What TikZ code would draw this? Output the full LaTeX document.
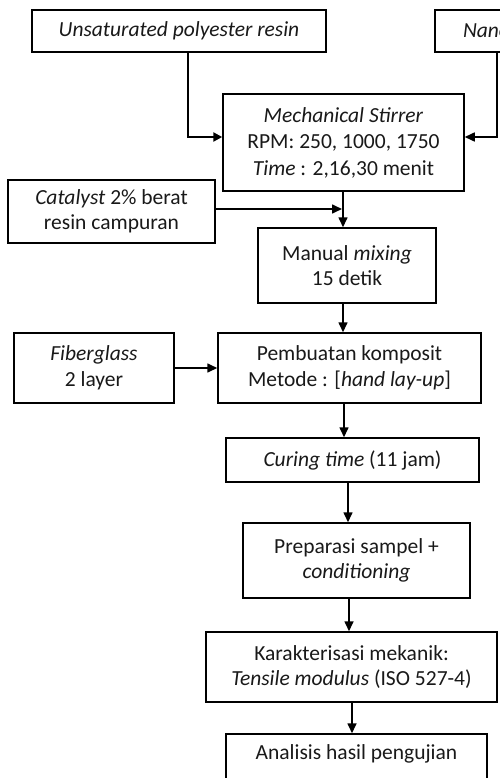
\documentclass[tikz,border=0pt]{standalone}
\usepackage{fontspec}
\setmainfont{Carlito}
\usetikzlibrary{arrows.meta}
\tikzset{
  box/.style={draw=black, line width=1.5pt, align=center, inner sep=0pt,
    text=black!90, font=\fontsize{21.5}{25.5}\selectfont},
  conn/.style={draw=black, line width=1.6pt, -{Triangle[length=10pt,width=9pt]}},
  thickconn/.style={conn, line width=2.8pt, -{Triangle[length=9pt,width=9pt]}},
}
\begin{document}
\begin{tikzpicture}[x=1pt,y=-1pt]
\useasboundingbox[fill=white] (0,0) rectangle (499,778);

\node[box, minimum width=294pt, minimum height=42pt] (unsat) at (179,31) {\textit{Unsaturated polyester resin}};
\node[box, minimum width=300pt, minimum height=42pt, text width=278pt, align=left, inner xsep=0pt] (nano) at (585,31) {\hspace*{17pt}\textit{Nano}};
\node[box, minimum width=241pt, minimum height=97pt, font=\fontsize{21.5}{26.5}\selectfont] (mech) at (343.5,142.5) {\textit{Mechanical Stirrer}\\ RPM: 250, 1000, 1750\\ \textit{Time} : 2,16,30 menit};
\node[box, minimum width=207pt, minimum height=63pt] (cat) at (111.5,211.5) {\textit{Catalyst} 2\% berat\\ resin campuran};
\node[box, minimum width=178pt, minimum height=75pt] (mix) at (347,265.5) {Manual \textit{mixing}\\ 15 detik};
\node[box, minimum width=263pt, minimum height=70pt] (pemb) at (349.5,368) {Pembuatan komposit\\ Metode : [\textit{hand lay-up}]};
\node[box, minimum width=160pt, minimum height=70pt] (fiber) at (94,368) {\textit{Fiberglass}\\ 2 layer};
\node[box, minimum width=253pt, minimum height=44pt] (cur) at (352.5,460) {\textit{Curing time} (11 jam)};
\node[box, minimum width=227pt, minimum height=75pt] (prep) at (356.5,560.5) {Preparasi sampel +\\ \textit{conditioning}};
\node[box, minimum width=291pt, minimum height=70pt] (kar) at (351.5,667) {Karakterisasi mekanik:\\ \textit{Tensile modulus} (ISO 527-4)};
\node[box, minimum width=261pt, minimum height=70pt] (ana) at (356.5,769) {Analisis hasil pengujian\\ \strut};

\coordinate (j1) at (188,137);
\coordinate (j2) at (497,137);
\coordinate (j3) at (343,0);
\coordinate (j4) at (342,209);
\coordinate (j5) at (344,0);
\coordinate (j6) at (348,0);
\coordinate (j7) at (349,0);
\coordinate (j8) at (352,0);

\draw[thickconn] (unsat.south -| j1) |- (mech.west |- j1);
\draw[conn] (nano.south -| j2) |- (mech.east |- j2);
\draw[conn] (mech.south -| j3) -- (mix.north -| j3);
\draw[conn] (cat.east |- j4) -- (j4);
\draw[conn] (mix.south -| j3) -- (pemb.north -| j3);
\draw[conn] (fiber.east) -- (pemb.west);
\draw[conn] (pemb.south -| j5) -- (cur.north -| j5);
\draw[conn] (cur.south -| j6) -- (prep.north -| j6);
\draw[conn] (prep.south -| j7) -- (kar.north -| j7);
\draw[conn] (kar.south -| j8) -- (ana.north -| j8);
\end{tikzpicture}
\end{document}
